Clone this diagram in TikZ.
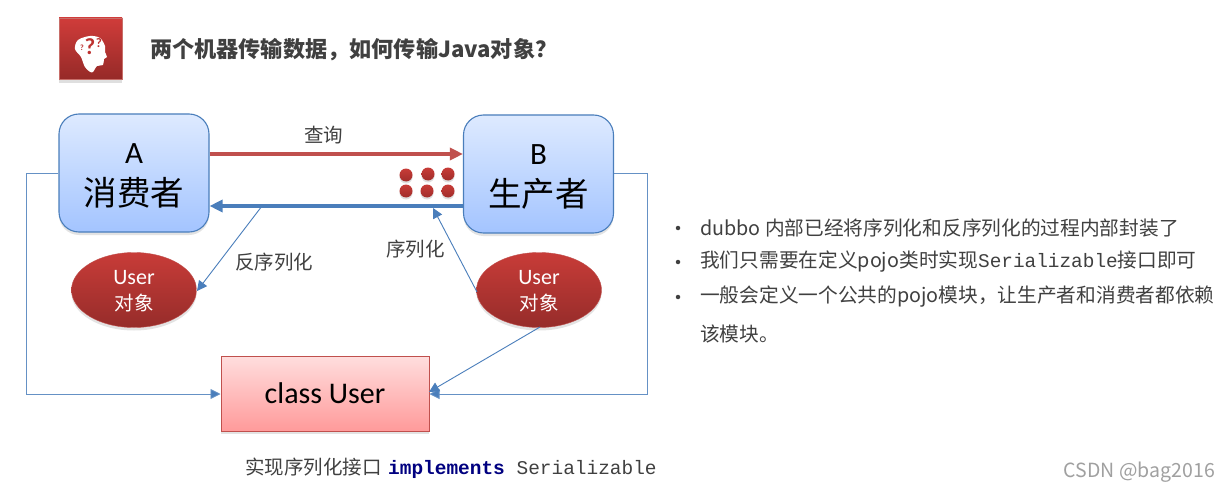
\documentclass[tikz,border=0pt]{standalone}
\usepackage{fontspec}
\setmainfont{Noto Sans CJK SC}
\newfontfamily\carl{Carlito}
\newfontfamily\courf{Liberation Mono}
\usetikzlibrary{arrows.meta,shadows,shapes.geometric}
\definecolor{linkblue}{HTML}{4A7EBB}
\definecolor{darkred}{HTML}{C0504D}
\definecolor{txt}{HTML}{404040}
\newcommand{\fs}[1]{\fontsize{#1}{#1}\selectfont}
\tikzset{
  softshadow/.style={drop shadow={opacity=.22,shadow xshift=0pt,shadow yshift=-3pt}},
  bluebox/.style={draw=linkblue,line width=1.1pt,rounded corners=20pt,
    top color={rgb,255:red,222;green,234;blue,255},bottom color={rgb,255:red,163;green,196;blue,255},
    minimum width=150pt,minimum height=118pt,inner sep=0pt,align=center,softshadow,
    font=\fontsize{33.5}{42}\selectfont},
  redellipse/.style={ellipse,minimum width=125pt,minimum height=75pt,inner sep=0pt,align=center,
    top color={rgb,255:red,200;green,60;blue,56},bottom color={rgb,255:red,150;green,44;blue,42},
    draw=darkred,text=white,softshadow,font=\fontsize{19.5}{25.5}\selectfont},
  classbox/.style={draw=darkred,line width=1pt,minimum width=208pt,minimum height=75pt,inner sep=0pt,
    top color={rgb,255:red,255;green,222;blue,222},bottom color={rgb,255:red,255;green,154;blue,154},
    softshadow,font=\carl\fontsize{30}{30}\selectfont},
  thick arrow/.style={line width=3.2pt},
  thin arrow/.style={draw=linkblue,line width=.9pt,-{Triangle[length=10pt,width=10pt,fill=linkblue]}},
  light arrow/.style={draw=linkblue!85!white,line width=.9pt,-{Triangle[length=10pt,width=10pt,fill=linkblue]}},
  dotn/.style={circle,minimum size=13pt,inner sep=0pt,
    top color={rgb,255:red,200;green,60;blue,56},bottom color={rgb,255:red,160;green,45;blue,42},
    drop shadow={opacity=.25,shadow xshift=0pt,shadow yshift=-2pt}},
  grey label/.style={text=txt,font=\fontsize{19.5}{19.5}\selectfont,inner sep=0pt},
  bullet text/.style={anchor=west,text=txt,font=\fontsize{19.7}{19.7}\selectfont,inner sep=0pt},
  bullet dot/.style={circle,fill=txt,minimum size=4.5pt,inner sep=0pt},
  qmark/.style={text={rgb,255:red,190;green,50;blue,48},inner sep=0pt},
}
\begin{document}
\begin{tikzpicture}[x=1pt,y=-1pt]
\useasboundingbox (0,0) rectangle (1230,492);
\fill[white] (0,0) rectangle (1230,492);

% icon
\node (icon) [minimum width=63pt,minimum height=61pt,inner sep=0pt,draw={rgb,255:red,200;green,110;blue,105},
  top color={rgb,255:red,208;green,60;blue,58},bottom color={rgb,255:red,150;green,42;blue,40},
  drop shadow={opacity=.25,shadow xshift=0pt,shadow yshift=-4pt}] at (90.5,48.5) {};
\fill[white] plot[smooth cycle,tension=.55] coordinates {(90,36) (100,38) (105,46) (105,52) (107,57) (104,59) (103,65) (97,66) (92,72.5) (85,67) (81,57) (75,49) (78,40)};
\node (q1) [qmark,font=\carl\bfseries\fontsize{23}{23}\selectfont] at (90,47) {?};
\node (q2) [qmark,font=\carl\bfseries\fontsize{13}{13}\selectfont] at (99,43) {?};
\node (q3) [qmark,font=\carl\bfseries\fontsize{8}{8}\selectfont] at (82,48) {?};

% title
\node (title) [anchor=west,inner sep=0pt,text=txt,font=\bfseries\fontsize{22.15}{22.15}\selectfont] at (150,50) {两个机器传输数据，如何传输Java对象？};

% boxes
\node (A) [bluebox] at (134,173) {\rule{0pt}{26pt}{\carl\fs{31}A}\\消费者};
\node (B) [bluebox] at (538.5,174) {\rule{0pt}{25pt}{\carl\fs{31}B}\\生产者};
\node (UL) [redellipse] at (134,290) {\rule{0pt}{17pt}{\carl\fs{22}User}\\对象};
\node (UR) [redellipse] at (539,290) {\rule{0pt}{17pt}{\carl\fs{22}User}\\对象};
\node (C) [classbox] at (325,393.5) {class User};

% dots
\foreach \n/\x/\y in {d1/406/175,d2/428/174,d3/448/174,d4/406/191,d5/427/191,d6/448/191}
  \node (\n) [dotn] at (\x,\y) {};

% coordinates of free ends
\coordinate (rs) at (A.east |- 0,154);
\coordinate (re) at (B.west |- 0,154);
\coordinate (bs) at (B.west |- 0,206);
\coordinate (be) at (A.east |- 0,206);
\coordinate (des) at (262,206);
\coordinate (ser) at (433,208);
\coordinate (ls) at (A.west |- 0,173);
\coordinate (rs2) at (B.east |- 0,173);
\coordinate (cl) at (C.west |- 0,394);
\coordinate (cr) at (C.east |- 0,394);
\coordinate (ulr) at (197,291);
\coordinate (urt) at (477,292);
\coordinate (urb) at (540,327);
\coordinate (cru) at (429,392);

% thick arrows
\draw[thick arrow,draw=darkred,-{Triangle[length=13pt,width=12pt,fill=darkred]}] (rs) -- (re);
\draw[thick arrow,draw=linkblue,-{Triangle[length=13pt,width=12pt,fill=linkblue]}] (bs) -- (be);

% thin arrows
\draw[thin arrow] (des) -- (ulr);
\draw[thin arrow] (urt) -- (ser);
\draw[light arrow] (ls) -- (26,173) -- (26,394) -- (cl);
\draw[light arrow] (rs2) -- (647,173) -- (647,394) -- (cr);
\draw[thin arrow] (urb) -- (cru);

% labels
\node (lq) [grey label] at (323.5,135) {查询};
\node (lf) [grey label] at (274,262) {反序列化};
\node (lx) [grey label] at (415.5,249) {序列化};

\node (impl) [anchor=west,inner sep=0pt,text=txt,font=\fontsize{19.5}{19.5}\selectfont] at (245,468)
  {实现序列化接口\hspace{6.5pt}{\courf\fs{19.45}\bfseries\textcolor[HTML]{000080}{implements} \textcolor{txt}{\mdseries Serializable}}};

% bullets
\node (b1) [bullet dot] at (678,228) {};
\node (b2) [bullet dot] at (678,262) {};
\node (b3) [bullet dot] at (678,297) {};
\node (t1) [bullet text] at (700,228) {dubbo 内部已经将序列化和反序列化的过程内部封装了};
\node (t2) [bullet text] at (700,262) {我们只需要在定义pojo类时实现{\courf\fs{19.4}Serializable}接口即可};
\node (t3) [bullet text] at (700,297) {一般会定义一个公共的pojo模块，让生产者和消费者都依赖};
\node (t4) [bullet text] at (700,334) {该模块。};

% watermark
\node (wm) [anchor=east,inner sep=0pt,text={rgb,255:red,160;green,160;blue,160},font=\fontsize{19.5}{19.5}\selectfont] at (1215,472) {CSDN @bag2016};
\end{tikzpicture}
\end{document}
